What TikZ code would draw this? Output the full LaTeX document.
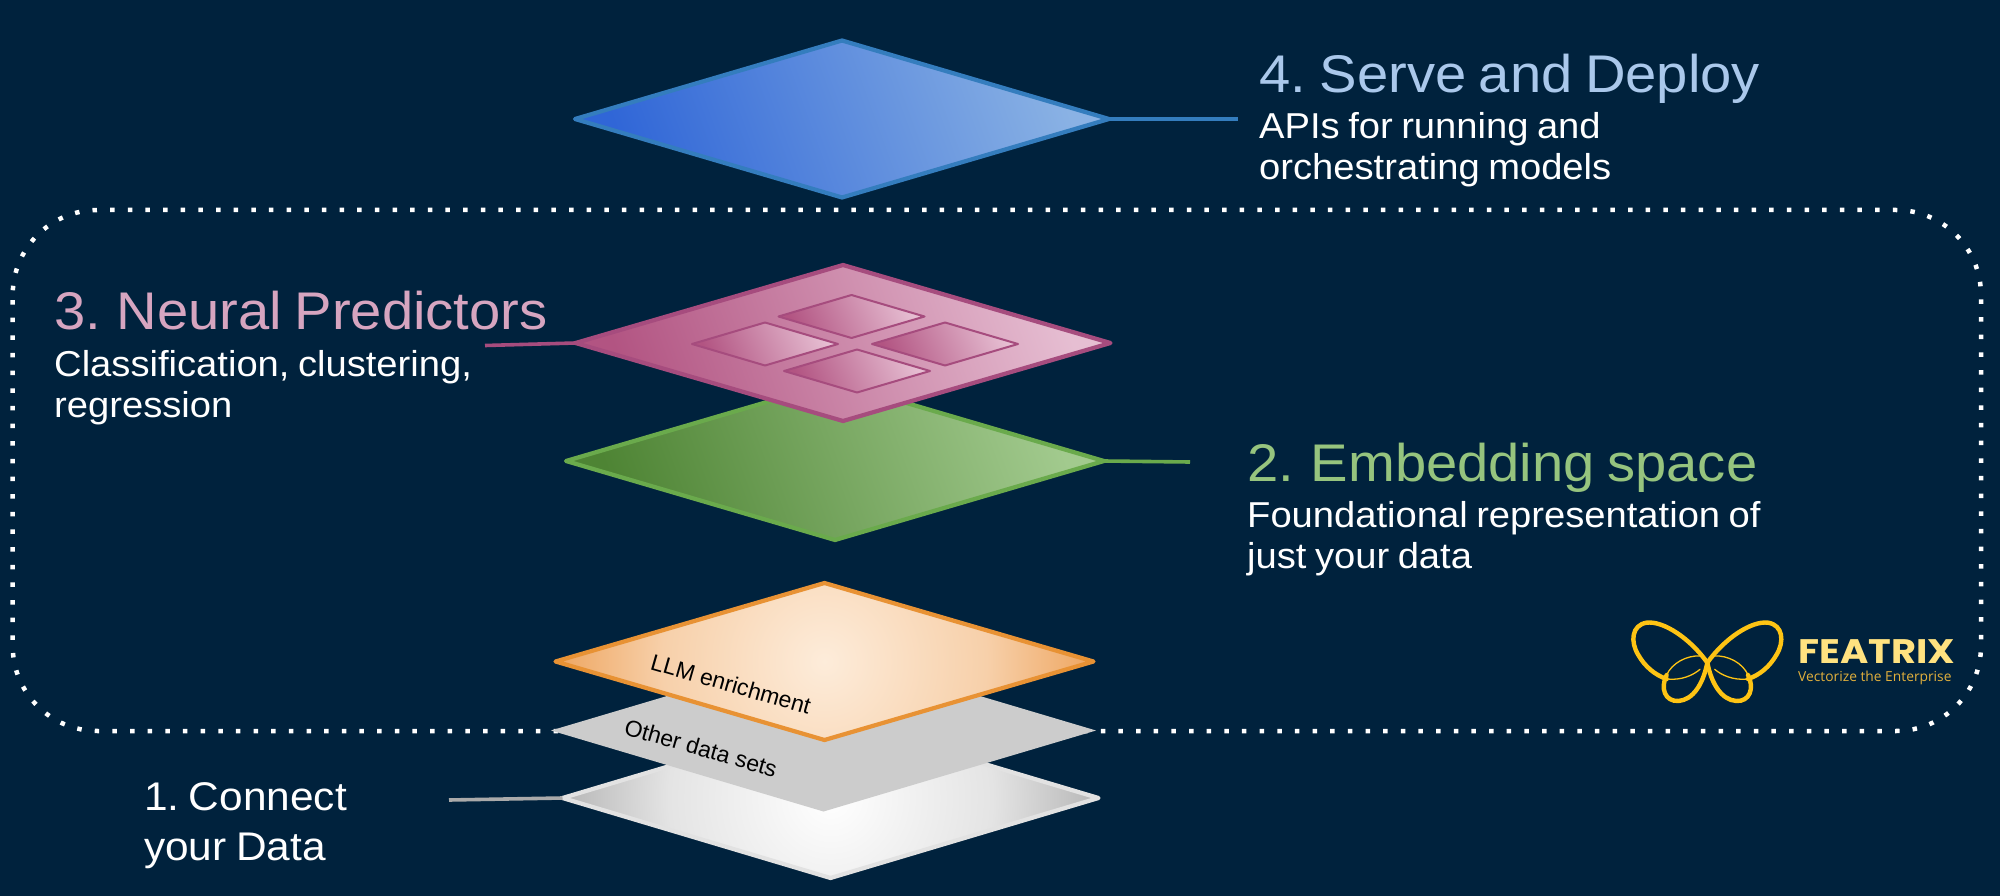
\documentclass[tikz,border=0pt]{standalone}
\usepackage{fontspec}
\setmainfont[FakeStretch=1.06,WordSpace=0.8]{Liberation Sans}
\newfontfamily\tagfont{Liberation Sans}
\newfontfamily\brandfont[FakeStretch=1.13,BoldFont=Poppins Bold,BoldFeatures={FakeStretch=1.13}]{Poppins}
\newfontfamily\sloganfont{Open Sans}
\usetikzlibrary{shapes.geometric}
\definecolor{pagebg}{RGB}{0,34,61}
\definecolor{servetxt}{RGB}{170,200,235}
\definecolor{neuraltxt}{RGB}{214,165,192}
\definecolor{embedtxt}{RGB}{150,196,126}
\definecolor{serveline}{RGB}{52,125,190}
\definecolor{neuralline}{RGB}{166,76,126}
\definecolor{embedline}{RGB}{106,170,76}
\definecolor{greyline}{RGB}{170,170,170}
\definecolor{gold}{RGB}{254,196,20}
\definecolor{brandtxt}{RGB}{255,226,128}
\definecolor{slogantxt}{RGB}{226,176,60}
\definecolor{amberlight}{RGB}{253,236,218}
\definecolor{ambermid}{RGB}{247,208,170}
\definecolor{amberdeep}{RGB}{238,165,95}
\definecolor{amberedge}{RGB}{232,146,52}
\definecolor{silvermid}{RGB}{242,242,242}
\definecolor{silverfar}{RGB}{228,228,228}
\definecolor{silvertip}{RGB}{186,186,186}
\definecolor{silveredge}{RGB}{226,226,226}
\definecolor{sheetgrey}{RGB}{204,204,204}
\definecolor{servedark}{RGB}{48,102,215}
\definecolor{servelight}{RGB}{138,178,228}
\definecolor{embeddark}{RGB}{78,132,52}
\definecolor{embedlight}{RGB}{162,202,142}
\definecolor{neuraldark}{RGB}{178,84,130}
\definecolor{neurallight}{RGB}{230,190,210}
\pgfdeclareradialshading{amberglow}{\pgfpoint{0bp}{0bp}}{color(0bp)=(amberlight); color(15bp)=(ambermid); color(25bp)=(amberdeep); color(50bp)=(amberdeep)}
\pgfdeclareradialshading{whiteglow}{\pgfpoint{0bp}{0bp}}{color(0bp)=(white); color(7bp)=(silvermid); color(15bp)=(silverfar); color(24bp)=(silvertip); color(50bp)=(silvertip)}
\tikzset{
  layer/.style={diamond, shape aspect=3.4, inner sep=0pt, outer sep=0pt, line join=round, line width=4.2pt},
  cell/.style={layer, line width=2pt, draw=neuralline, left color=neuraldark, right color=neurallight, shading angle=115, minimum width=146pt, minimum height=43pt},
  lead/.style={line width=3.6pt},
  title/.style={anchor=base west, inner sep=0pt, font=\fontsize{53}{60}\selectfont},
  body/.style={anchor=base west, inner sep=0pt, align=left, text=white, font=\fontsize{36}{41}\selectfont},
  onlayer/.style={inner sep=0pt, text=black, rotate=-16, font=\tagfont\fontsize{23}{26}\selectfont},
  thickwing/.style={draw=gold, line width=4.4pt, line cap=round},
  thinwing/.style={draw=gold, line width=1.3pt, line cap=round},
  glow/.style={path picture={\path[shading=#1] ([shift={(-270pt,-270pt)}]path picture bounding box.center) rectangle ([shift={(270pt,270pt)}]path picture bounding box.center);}}
}
\newcommand{\wingstrokes}{%
  \draw[thickwing] (322,188) .. controls (270,115) and (190,62) .. (140,68)
    .. controls (95,75) and (90,125) .. (115,165) .. controls (135,200) and (165,225) .. (200,237);
  \draw[thinwing] (200,237) .. controls (245,242) and (280,225) .. (300,208);
  \draw[thickwing] (322,188) .. controls (310,250) and (280,300) .. (235,303)
    .. controls (195,305) and (180,265) .. (200,225);
  \draw[thinwing] (200,225) .. controls (215,190) and (260,165) .. (302,168);
}
\begin{document}
\begin{tikzpicture}[x=1pt,y=-1pt]
  \useasboundingbox (0,0) rectangle (2000,896);
  \fill[pagebg] (0,0) rectangle (2000,896);

  % dotted enclosure around the trained layers
  \draw[white, line width=4.5pt, dash pattern=on 4.5pt off 13.15pt, rounded corners=85pt]
    (12.7,300) -- (12.7,731) -- (1981,731) -- (1981,210) -- (12.7,210) -- (12.7,300);

  % free ends of the leader lines
  \coordinate (serveEnd) at (1238,119);
  \coordinate (neuralEnd) at (485,345.5);
  \coordinate (embedEnd) at (1190,462);
  \coordinate (connectEnd) at (449,800);

  % the stack, bottom layer first
  \node[layer, draw=silveredge, glow=whiteglow, minimum width=536pt, minimum height=160pt] (source) at (830.5,798) {};
  \draw[lead, greyline] (source.west) -- (connectEnd);

  \node[diamond, shape aspect=3.4, inner sep=0pt, outer sep=0pt, fill=sheetgrey, minimum width=545pt, minimum height=162pt] (other) at (823.5,730.5) {};
  \node[onlayer] (otherTag) at (701,748) {Other data sets};

  \node[layer, draw=amberedge, glow=amberglow, minimum width=538pt, minimum height=157pt] (enrich) at (824.5,661.5) {};
  \node[onlayer] (enrichTag) at (731,684) {LLM enrichment};

  \node[layer, draw=embedline, left color=embeddark, right color=embedlight, shading angle=110, minimum width=538pt, minimum height=158pt] (embed) at (835,461) {};
  \draw[lead, embedline] (embed.east) -- (embedEnd);

  \node[layer, draw=neuralline, left color=neuraldark, right color=neurallight, shading angle=110, minimum width=535pt, minimum height=156pt] (neural) at (843,343) {};
  \draw[lead, neuralline] (neural.west) -- (neuralEnd);
  \node[cell] (cellTop) at (851.5,316.5) {};
  \node[cell] (cellLeft) at (765,344) {};
  \node[cell] (cellRight) at (945,344) {};
  \node[cell] (cellBottom) at (857,371) {};

  \node[layer, draw=serveline, left color=servedark, right color=servelight, shading angle=110, minimum width=534pt, minimum height=157pt] (serve) at (842,119) {};
  \draw[lead, serveline] (serve.east) -- (serveEnd);

  % captions
  \node[title, text=servetxt] (serveTitle) at (1259,93) {4.\hspace{-4pt} Serve and Deploy};
  \node[body] (serveBody) at (1259,180) {APIs for running and\\orchestrating models};
  \node[title, text=neuraltxt] (neuralTitle) at (54,329) {3.\hspace{-2pt} Neural Predictors};
  \node[body] (neuralBody) at (54,417) {Classification, clustering,\\regression};
  \node[title, text=embedtxt] (embedTitle) at (1247,481) {2.\hspace{-1pt} Embedding space};
  \node[body] (embedBody) at (1247,568) {Foundational representation of\\just your data};
  \node[body, font=\fontsize{40}{50}\selectfont] (connectBody) at (144,860) {1.\hspace{-4pt} Connect\\your Data};

  % butterfly mark, one wing and its mirror image
  \begin{scope}[shift={(1600,600)},x=0.3333pt,y=-0.3333pt]
    \wingstrokes
  \end{scope}
  \begin{scope}[shift={(1814.67,600)},x=-0.3333pt,y=-0.3333pt]
    \wingstrokes
  \end{scope}
  \node[anchor=base west, inner sep=0pt, text=brandtxt, font=\brandfont\bfseries\fontsize{34}{40}\selectfont] (brand) at (1798,663) {FEATRIX};
  \node[anchor=base west, inner sep=0pt, text=slogantxt, font=\sloganfont\fontsize{13.8}{16}\selectfont] (slogan) at (1798,681) {Vectorize the Enterprise};
\end{tikzpicture}
\end{document}
